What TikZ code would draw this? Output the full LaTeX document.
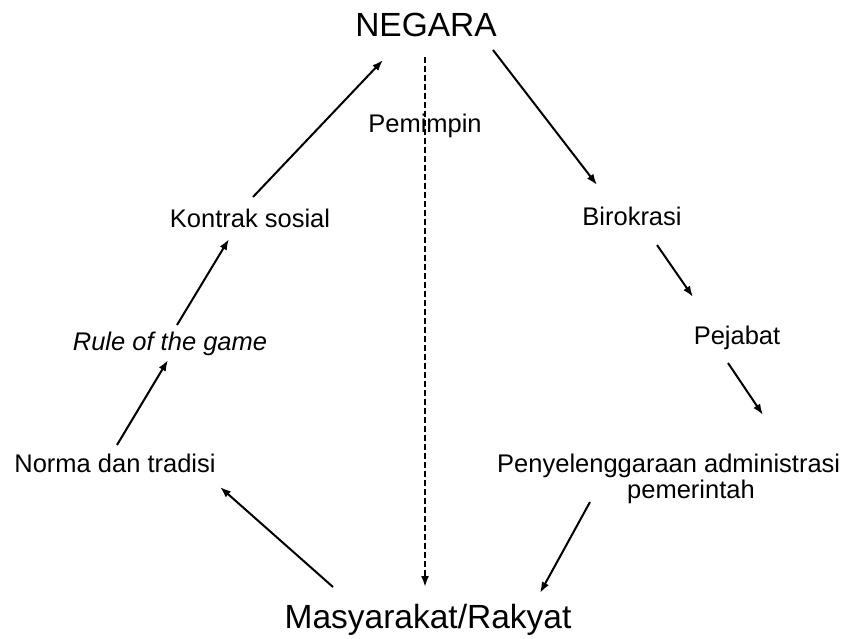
\documentclass[tikz,border=0pt]{standalone}
\usepackage{fontspec}
\setmainfont{Liberation Sans}
\usetikzlibrary{arrows.meta}

\tikzset{
  lbl/.style={inner sep=0pt, anchor=base, font=\fontsize{25.5}{26}\selectfont},
  big/.style={inner sep=0pt, anchor=base, font=\fontsize{33.5}{36}\selectfont},
  arr/.style={line width=2pt, -{Latex[length=11pt,width=8pt]}},
  dasharr/.style={arr, dash pattern=on 6pt off 3pt}
}

\begin{document}
\begin{tikzpicture}[x=1pt,y=1pt]
\useasboundingbox (0,0) rectangle (845,-639);

\node[big] (negara) at (426,-37) {NEGARA};
\node[lbl] (pemimpin) at (425,-133) {Pemimpin};
\node[lbl] (kontrak) at (250,-227) {Kontrak sosial};
\node[lbl] (birokrasi) at (632,-225) {Birokrasi};
\node[lbl, font=\fontsize{25.5}{26}\selectfont\itshape] (rule) at (170,-350) {Rule of the game};
\node[lbl] (pejabat) at (737,-344) {Pejabat};
\node[lbl] (norma) at (115,-472) {Norma dan tradisi};
\node[lbl, anchor=north west, align=left] (penyel) at (497,-453.7) {Penyelenggaraan administrasi\\\hspace*{130pt}pemerintah};
\node[big] (masy) at (428,-628) {Masyarakat/Rakyat};

% kiri: dari masyarakat naik ke negara
\draw[arr] ([shift={(-95,41)}]masy.base) -- ([shift={(105,-15)}]norma.base);
\draw[arr] ([shift={(2,27)}]norma.base) -- ([shift={(-2,-10)}]rule.base);
\draw[arr] ([shift={(7,25)}]rule.base) -- ([shift={(-21,-12)}]kontrak.base);
\draw[arr] ([shift={(3,30)}]kontrak.base) -- ([shift={(-43,-23)}]negara.base);

% kanan: dari negara turun ke masyarakat
\draw[arr] ([shift={(67,-13)}]negara.base) -- ([shift={(-35,40)}]birokrasi.base);
\draw[arr] ([shift={(25,-20)}]birokrasi.base) -- ([shift={(-44,47)}]pejabat.base);
\draw[arr] ([shift={(-9,-19)}]pejabat.base) -- ([shift={(266,38.7)}]penyel.north west);
\draw[arr] ([shift={(93,-48.3)}]penyel.north west) -- ([shift={(112,35)}]masy.base);

% tengah: pemimpin
\draw[dasharr] ([shift={(-1,-20)}]negara.base) -- ([shift={(-3,41)}]masy.base);
\end{tikzpicture}
\end{document}
